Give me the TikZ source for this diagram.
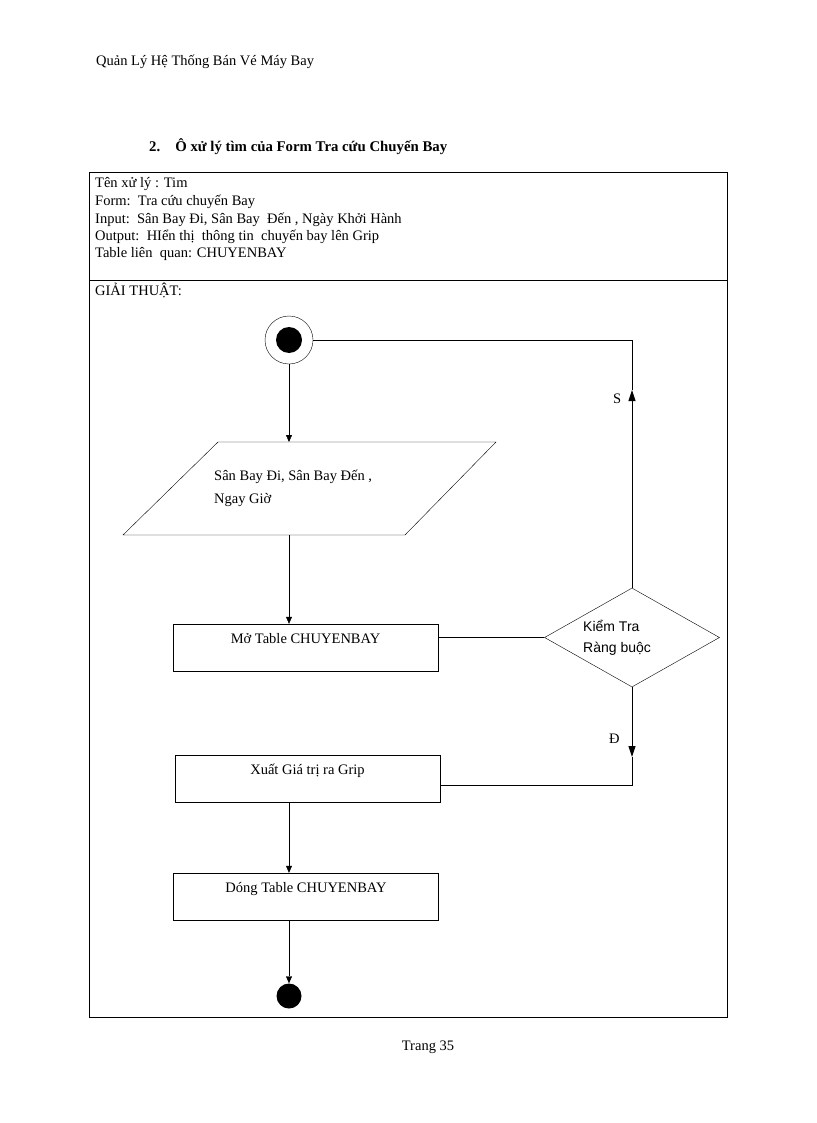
\documentclass[tikz,border=0pt]{standalone}
\usepackage{fontspec}
\setmainfont{Liberation Serif}
\newfontfamily\arialf{Liberation Sans}
\usetikzlibrary{shapes.geometric,arrows.meta}
\begin{document}
\begin{tikzpicture}[x=1pt,y=-1pt,
  every node/.style={font=\fontsize{14.5}{17.5}\selectfont},
  txt/.style={inner sep=0pt, anchor=base west},
  procbox/.style={draw, rectangle, minimum width=265pt, minimum height=47pt, inner ysep=4pt, text height=15pt, text depth=24pt},
  arr/.style={-{Triangle[length=7pt,width=6pt]}},
  bigarr/.style={-{Triangle[length=11pt,width=7pt]}, line width=0.9pt}
]
\useasboundingbox (0,0) rectangle (816,1123);
\fill[white] (0,0) rectangle (816,1123);

% header
\node[txt] (hdr) at (96,66) {Quản Lý Hệ Thống Bán Vé Máy Bay};
\node[txt, font=\fontsize{14.8}{17}\selectfont\bfseries] (ttl) at (149,152) {2.\hspace{15pt}Ô xử lý tìm của Form Tra cứu Chuyến Bay};

% outer frame
\draw (89,172) rectangle (727,1017);
\draw (89,280) -- (727,280);

% info
\node[txt] (i1) at (95,188) {Tên xử lý : Tim};
\node[txt] (i2) at (95,205.5) {Form:\ \ Tra cứu chuyến Bay};
\node[txt] (i3) at (95,223) {Input:\ \ Sân Bay Đi, Sân Bay\ \ Đến , Ngày Khởi Hành};
\node[txt] (i4) at (95,240.5) {Output:\ \ HIển thị\ \ thông tin\ \ chuyến bay lên Grip};
\node[txt] (i5) at (95,258) {Table liên\ \ quan: CHUYENBAY};
\node[txt] (gt) at (95,295) {GIẢI THUẬT:};

% start
\node[circle, draw, minimum size=48pt, inner sep=0pt,
  path picture={\fill (path picture bounding box.center) circle (13pt);}] (start) at (289,340) {};

% parallelogram
\draw (218,442) -- (496,442) -- (405,535) -- (123,535) -- cycle;
\coordinate (ptop) at (289,442);
\coordinate (pbot) at (289,535);
\node[txt, align=left, anchor=north west] (ptxt) at (214,470) {Sân Bay Đi, Sân Bay Đến ,\\[5pt]Ngay Giờ};

% boxes
\node[procbox] (mo) at (305.5,647.5) {Mở Table CHUYENBAY};
\node[procbox] (xuat) at (307.5,779) {Xuất Giá trị ra Grip};
\node[procbox] (dong) at (306,896.5) {Dóng Table CHUYENBAY};

% diamond
\node[draw, diamond, minimum width=175pt, minimum height=99pt, inner sep=0pt] (dia) at (632,637.5) {};
\node[inner sep=0pt, align=left, anchor=north west, font=\arialf\fontsize{14}{21}\selectfont] (dtxt) at (583,620) {Kiểm Tra\\Ràng buộc};

% end
\node[circle, fill=black, minimum size=25pt, inner sep=0pt] (end) at (289,996) {};

% labels
\node[txt] (slab) at (613,403) {S};
\node[txt] (dlab) at (609,743) {Đ};

% footer
\node[txt, anchor=base] (ftr) at (428,1050) {Trang 35};

% connectors
\draw[arr] (start.south) -- (ptop);
\draw[arr] (pbot) -- (mo.north -| start);
\draw (dia.west) -- (dia.west -| mo.east);
\coordinate (sup1) at (632,390);
\coordinate (scorner) at (632,340);
\draw[bigarr] (dia.north) -- (sup1);
\draw (sup1) -- (scorner) -- (start.east);
\coordinate (dmid) at (632,757);
\coordinate (dcorner) at (632,785);
\draw[bigarr] (dia.south) -- (dmid);
\draw (dmid) -- (dcorner) -- (dcorner -| xuat.east);
\draw[arr] (xuat.south -| start) -- (dong.north -| start);
\draw[arr] (dong.south -| start) -- (end.north);
\end{tikzpicture}
\end{document}
